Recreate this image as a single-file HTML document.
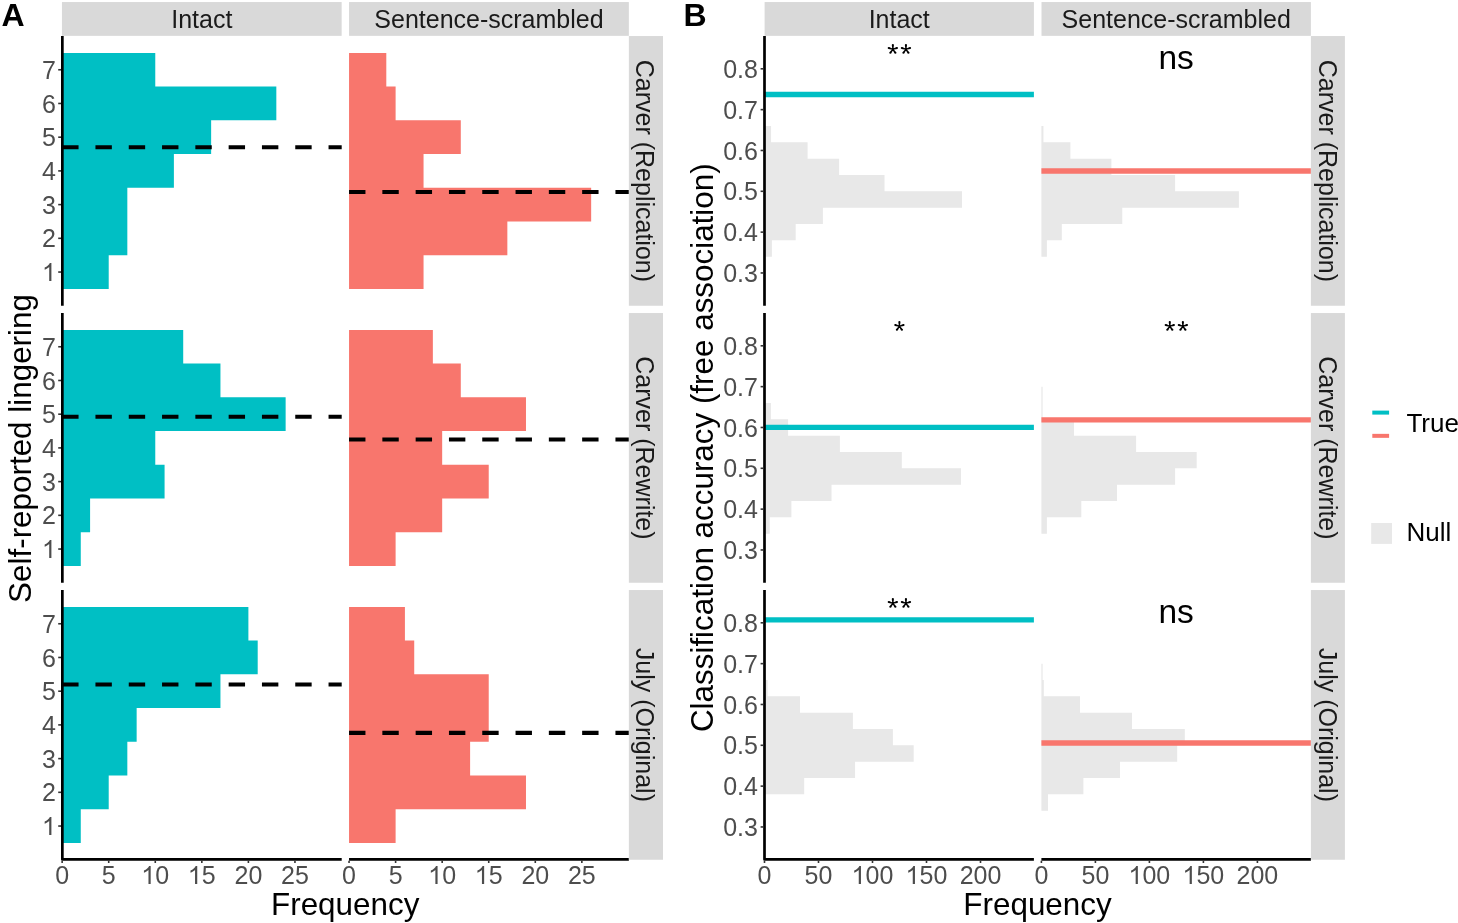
<!DOCTYPE html>
<html><head><meta charset="utf-8"><style>
html,body{margin:0;padding:0;background:#fff;}
body{width:1458px;height:923px;overflow:hidden;}
svg{display:block;font-family:"Liberation Sans", sans-serif;will-change:transform;}
</style></head><body>
<svg width="1458" height="923" viewBox="0 0 1458 923">
<rect x="0" y="0" width="1458" height="923" fill="#fff"/>
<path d="M62.15,288.89 L108.71,288.89 L108.71,255.18 L127.33,255.18 L127.33,221.47 L127.33,221.47 L127.33,187.76 L173.89,187.76 L173.89,154.04 L211.14,154.04 L211.14,120.33 L276.33,120.33 L276.33,86.62 L155.27,86.62 L155.27,52.91 L62.15,52.91 Z" fill="#00BFC4"/>
<line x1="62.15" y1="147.30" x2="341.70" y2="147.30" stroke="#000" stroke-width="4.1" stroke-dasharray="16.4 16.9"/>
<path d="M349.05,288.89 L423.55,288.89 L423.55,255.18 L507.35,255.18 L507.35,221.47 L591.16,221.47 L591.16,187.76 L423.55,187.76 L423.55,154.04 L460.79,154.04 L460.79,120.33 L395.61,120.33 L395.61,86.62 L386.30,86.62 L386.30,52.91 L349.05,52.91 Z" fill="#F8766D"/>
<line x1="349.05" y1="191.97" x2="628.85" y2="191.97" stroke="#000" stroke-width="4.1" stroke-dasharray="16.4 16.9"/>
<path d="M62.15,565.89 L80.77,565.89 L80.77,532.18 L90.09,532.18 L90.09,498.47 L164.58,498.47 L164.58,464.76 L155.27,464.76 L155.27,431.04 L285.64,431.04 L285.64,397.33 L220.45,397.33 L220.45,363.62 L183.21,363.62 L183.21,329.91 L62.15,329.91 Z" fill="#00BFC4"/>
<line x1="62.15" y1="416.72" x2="341.70" y2="416.72" stroke="#000" stroke-width="4.1" stroke-dasharray="16.4 16.9"/>
<path d="M349.05,565.89 L395.61,565.89 L395.61,532.18 L442.17,532.18 L442.17,498.47 L488.73,498.47 L488.73,464.76 L442.17,464.76 L442.17,431.04 L525.98,431.04 L525.98,397.33 L460.79,397.33 L460.79,363.62 L432.86,363.62 L432.86,329.91 L349.05,329.91 Z" fill="#F8766D"/>
<line x1="349.05" y1="439.47" x2="628.85" y2="439.47" stroke="#000" stroke-width="4.1" stroke-dasharray="16.4 16.9"/>
<path d="M62.15,842.89 L80.77,842.89 L80.77,809.18 L108.71,809.18 L108.71,775.47 L127.33,775.47 L127.33,741.76 L136.65,741.76 L136.65,708.04 L220.45,708.04 L220.45,674.33 L257.70,674.33 L257.70,640.62 L248.39,640.62 L248.39,606.91 L62.15,606.91 Z" fill="#00BFC4"/>
<line x1="62.15" y1="684.44" x2="341.70" y2="684.44" stroke="#000" stroke-width="4.1" stroke-dasharray="16.4 16.9"/>
<path d="M349.05,842.89 L395.61,842.89 L395.61,809.18 L525.98,809.18 L525.98,775.47 L470.11,775.47 L470.11,741.76 L488.73,741.76 L488.73,708.04 L488.73,708.04 L488.73,674.33 L414.23,674.33 L414.23,640.62 L404.92,640.62 L404.92,606.91 L349.05,606.91 Z" fill="#F8766D"/>
<line x1="349.05" y1="732.91" x2="628.85" y2="732.91" stroke="#000" stroke-width="4.1" stroke-dasharray="16.4 16.9"/>
<path d="M764.50,256.63 L771.90,256.63 L771.90,240.30 L795.70,240.30 L795.70,223.96 L822.90,223.96 L822.90,207.63 L962.00,207.63 L962.00,191.30 L884.50,191.30 L884.50,174.97 L839.10,174.97 L839.10,158.64 L807.60,158.64 L807.60,142.30 L771.05,142.30 L771.05,125.97 L764.50,125.97 Z" fill="#E8E8E8"/>
<line x1="764.50" y1="94.50" x2="1033.90" y2="94.50" stroke="#00BFC4" stroke-width="5.3" />
<path d="M1041.40,256.63 L1046.90,256.63 L1046.90,240.30 L1061.80,240.30 L1061.80,223.96 L1122.25,223.96 L1122.25,207.63 L1238.90,207.63 L1238.90,191.30 L1175.10,191.30 L1175.10,174.97 L1111.40,174.97 L1111.40,158.64 L1070.40,158.64 L1070.40,142.30 L1043.45,142.30 L1043.45,125.97 L1041.40,125.97 Z" fill="#E8E8E8"/>
<line x1="1041.40" y1="171.00" x2="1310.90" y2="171.00" stroke="#F8766D" stroke-width="5.3" />
<path d="M764.50,533.63 L769.75,533.63 L769.75,517.30 L791.40,517.30 L791.40,500.96 L831.50,500.96 L831.50,484.63 L961.00,484.63 L961.00,468.30 L901.80,468.30 L901.80,451.97 L839.90,451.97 L839.90,435.64 L788.10,435.64 L788.10,419.30 L770.90,419.30 L770.90,402.97 L764.50,402.97 Z" fill="#E8E8E8"/>
<line x1="764.50" y1="427.35" x2="1033.90" y2="427.35" stroke="#00BFC4" stroke-width="5.3" />
<path d="M1041.40,533.63 L1046.90,533.63 L1046.90,517.30 L1081.30,517.30 L1081.30,500.96 L1117.00,500.96 L1117.00,484.63 L1175.10,484.63 L1175.10,468.30 L1196.70,468.30 L1196.70,451.97 L1136.10,451.97 L1136.10,435.64 L1074.00,435.64 L1074.00,419.30 L1042.60,419.30 L1042.60,402.97 L1042.60,402.97 L1042.60,386.64 L1041.40,386.64 Z" fill="#E8E8E8"/>
<line x1="1041.40" y1="419.80" x2="1310.90" y2="419.80" stroke="#F8766D" stroke-width="5.3" />
<path d="M764.50,794.30 L804.20,794.30 L804.20,777.96 L855.05,777.96 L855.05,761.63 L913.70,761.63 L913.70,745.30 L892.90,745.30 L892.90,728.97 L852.90,728.97 L852.90,712.64 L800.00,712.64 L800.00,696.30 L767.60,696.30 L767.60,679.97 L764.50,679.97 Z" fill="#E8E8E8"/>
<line x1="764.50" y1="619.90" x2="1033.90" y2="619.90" stroke="#00BFC4" stroke-width="5.3" />
<path d="M1041.40,810.63 L1048.00,810.63 L1048.00,794.30 L1083.40,794.30 L1083.40,777.96 L1120.00,777.96 L1120.00,761.63 L1177.20,761.63 L1177.20,745.30 L1184.80,745.30 L1184.80,728.97 L1132.00,728.97 L1132.00,712.64 L1080.00,712.64 L1080.00,696.30 L1043.80,696.30 L1043.80,679.97 L1042.60,679.97 L1042.60,663.64 L1041.40,663.64 Z" fill="#E8E8E8"/>
<line x1="1041.40" y1="743.00" x2="1310.90" y2="743.00" stroke="#F8766D" stroke-width="5.3" />
<circle cx="892.86" cy="49.30" r="1.0" fill="#000"/>
<path d="M893.41,49.30L893.94,45.00L891.78,45.00L892.31,49.30ZM891.78,45.00a1.08,1.08 0 1,0 2.16,0a1.08,1.08 0 1,0 -2.16,0ZM893.03,48.78L889.10,46.94L888.44,49.00L892.69,49.82ZM887.69,47.97a1.08,1.08 0 1,0 2.16,0a1.08,1.08 0 1,0 -2.16,0ZM893.03,49.82L897.28,49.00L896.62,46.94L892.69,48.78ZM895.87,47.97a1.08,1.08 0 1,0 2.16,0a1.08,1.08 0 1,0 -2.16,0ZM892.42,48.98L889.46,52.14L891.21,53.41L893.30,49.62ZM889.25,52.78a1.08,1.08 0 1,0 2.16,0a1.08,1.08 0 1,0 -2.16,0ZM892.42,49.62L894.51,53.41L896.26,52.14L893.30,48.98ZM894.31,52.78a1.08,1.08 0 1,0 2.16,0a1.08,1.08 0 1,0 -2.16,0Z" fill="#000" fill-rule="nonzero"/>
<circle cx="905.94" cy="49.30" r="1.0" fill="#000"/>
<path d="M906.49,49.30L907.02,45.00L904.86,45.00L905.39,49.30ZM904.86,45.00a1.08,1.08 0 1,0 2.16,0a1.08,1.08 0 1,0 -2.16,0ZM906.11,48.78L902.18,46.94L901.52,49.00L905.77,49.82ZM900.77,47.97a1.08,1.08 0 1,0 2.16,0a1.08,1.08 0 1,0 -2.16,0ZM906.11,49.82L910.36,49.00L909.70,46.94L905.77,48.78ZM908.95,47.97a1.08,1.08 0 1,0 2.16,0a1.08,1.08 0 1,0 -2.16,0ZM905.50,48.98L902.54,52.14L904.29,53.41L906.38,49.62ZM902.33,52.78a1.08,1.08 0 1,0 2.16,0a1.08,1.08 0 1,0 -2.16,0ZM905.50,49.62L907.59,53.41L909.34,52.14L906.38,48.98ZM907.39,52.78a1.08,1.08 0 1,0 2.16,0a1.08,1.08 0 1,0 -2.16,0Z" fill="#000" fill-rule="nonzero"/>
<text x="1176.15" y="68.65" font-size="33.5" fill="#000" text-anchor="middle" font-weight="normal">ns</text>
<circle cx="899.40" cy="326.30" r="1.0" fill="#000"/>
<path d="M899.95,326.30L900.48,322.00L898.32,322.00L898.85,326.30ZM898.32,322.00a1.08,1.08 0 1,0 2.16,0a1.08,1.08 0 1,0 -2.16,0ZM899.57,325.78L895.64,323.94L894.98,326.00L899.23,326.82ZM894.23,324.97a1.08,1.08 0 1,0 2.16,0a1.08,1.08 0 1,0 -2.16,0ZM899.57,326.82L903.82,326.00L903.16,323.94L899.23,325.78ZM902.41,324.97a1.08,1.08 0 1,0 2.16,0a1.08,1.08 0 1,0 -2.16,0ZM898.96,325.98L896.00,329.14L897.75,330.41L899.84,326.62ZM895.79,329.78a1.08,1.08 0 1,0 2.16,0a1.08,1.08 0 1,0 -2.16,0ZM898.96,326.62L901.05,330.41L902.80,329.14L899.84,325.98ZM900.85,329.78a1.08,1.08 0 1,0 2.16,0a1.08,1.08 0 1,0 -2.16,0Z" fill="#000" fill-rule="nonzero"/>
<circle cx="1169.81" cy="326.30" r="1.0" fill="#000"/>
<path d="M1170.36,326.30L1170.89,322.00L1168.73,322.00L1169.26,326.30ZM1168.73,322.00a1.08,1.08 0 1,0 2.16,0a1.08,1.08 0 1,0 -2.16,0ZM1169.98,325.78L1166.05,323.94L1165.39,326.00L1169.64,326.82ZM1164.64,324.97a1.08,1.08 0 1,0 2.16,0a1.08,1.08 0 1,0 -2.16,0ZM1169.98,326.82L1174.23,326.00L1173.57,323.94L1169.64,325.78ZM1172.82,324.97a1.08,1.08 0 1,0 2.16,0a1.08,1.08 0 1,0 -2.16,0ZM1169.37,325.98L1166.41,329.14L1168.16,330.41L1170.25,326.62ZM1166.20,329.78a1.08,1.08 0 1,0 2.16,0a1.08,1.08 0 1,0 -2.16,0ZM1169.37,326.62L1171.46,330.41L1173.21,329.14L1170.25,325.98ZM1171.26,329.78a1.08,1.08 0 1,0 2.16,0a1.08,1.08 0 1,0 -2.16,0Z" fill="#000" fill-rule="nonzero"/>
<circle cx="1182.89" cy="326.30" r="1.0" fill="#000"/>
<path d="M1183.44,326.30L1183.97,322.00L1181.81,322.00L1182.34,326.30ZM1181.81,322.00a1.08,1.08 0 1,0 2.16,0a1.08,1.08 0 1,0 -2.16,0ZM1183.06,325.78L1179.13,323.94L1178.47,326.00L1182.72,326.82ZM1177.72,324.97a1.08,1.08 0 1,0 2.16,0a1.08,1.08 0 1,0 -2.16,0ZM1183.06,326.82L1187.31,326.00L1186.65,323.94L1182.72,325.78ZM1185.90,324.97a1.08,1.08 0 1,0 2.16,0a1.08,1.08 0 1,0 -2.16,0ZM1182.45,325.98L1179.49,329.14L1181.24,330.41L1183.33,326.62ZM1179.28,329.78a1.08,1.08 0 1,0 2.16,0a1.08,1.08 0 1,0 -2.16,0ZM1182.45,326.62L1184.54,330.41L1186.29,329.14L1183.33,325.98ZM1184.34,329.78a1.08,1.08 0 1,0 2.16,0a1.08,1.08 0 1,0 -2.16,0Z" fill="#000" fill-rule="nonzero"/>
<circle cx="892.86" cy="603.30" r="1.0" fill="#000"/>
<path d="M893.41,603.30L893.94,599.00L891.78,599.00L892.31,603.30ZM891.78,599.00a1.08,1.08 0 1,0 2.16,0a1.08,1.08 0 1,0 -2.16,0ZM893.03,602.78L889.10,600.94L888.44,603.00L892.69,603.82ZM887.69,601.97a1.08,1.08 0 1,0 2.16,0a1.08,1.08 0 1,0 -2.16,0ZM893.03,603.82L897.28,603.00L896.62,600.94L892.69,602.78ZM895.87,601.97a1.08,1.08 0 1,0 2.16,0a1.08,1.08 0 1,0 -2.16,0ZM892.42,602.98L889.46,606.14L891.21,607.41L893.30,603.62ZM889.25,606.78a1.08,1.08 0 1,0 2.16,0a1.08,1.08 0 1,0 -2.16,0ZM892.42,603.62L894.51,607.41L896.26,606.14L893.30,602.98ZM894.31,606.78a1.08,1.08 0 1,0 2.16,0a1.08,1.08 0 1,0 -2.16,0Z" fill="#000" fill-rule="nonzero"/>
<circle cx="905.94" cy="603.30" r="1.0" fill="#000"/>
<path d="M906.49,603.30L907.02,599.00L904.86,599.00L905.39,603.30ZM904.86,599.00a1.08,1.08 0 1,0 2.16,0a1.08,1.08 0 1,0 -2.16,0ZM906.11,602.78L902.18,600.94L901.52,603.00L905.77,603.82ZM900.77,601.97a1.08,1.08 0 1,0 2.16,0a1.08,1.08 0 1,0 -2.16,0ZM906.11,603.82L910.36,603.00L909.70,600.94L905.77,602.78ZM908.95,601.97a1.08,1.08 0 1,0 2.16,0a1.08,1.08 0 1,0 -2.16,0ZM905.50,602.98L902.54,606.14L904.29,607.41L906.38,603.62ZM902.33,606.78a1.08,1.08 0 1,0 2.16,0a1.08,1.08 0 1,0 -2.16,0ZM905.50,603.62L907.59,607.41L909.34,606.14L906.38,602.98ZM907.39,606.78a1.08,1.08 0 1,0 2.16,0a1.08,1.08 0 1,0 -2.16,0Z" fill="#000" fill-rule="nonzero"/>
<text x="1176.15" y="622.65" font-size="33.5" fill="#000" text-anchor="middle" font-weight="normal">ns</text>
<line x1="62.35" y1="35.95" x2="62.35" y2="305.75" stroke="#000" stroke-width="2.7" />
<line x1="764.50" y1="35.95" x2="764.50" y2="305.75" stroke="#000" stroke-width="2.7" />
<line x1="58.20" y1="272.04" x2="61.00" y2="272.04" stroke="#333" stroke-width="1.6" />
<path d="M0.3726 0L0.2847 0L0.2847 0.5601C0.2630 0.5390 0.2350 0.5190 0.2010 0.4990C0.1670 0.4790 0.1340 0.4640 0.1030 0.4541L0.1030 0.5391C0.1480 0.5600 0.1940 0.5880 0.2330 0.6220C0.2720 0.6560 0.2980 0.6880 0.3101 0.7188L0.3726 0.7188Z" fill="#4D4D4D" transform="translate(42.09 281.00) scale(25 -25)"/>
<line x1="58.20" y1="238.32" x2="61.00" y2="238.32" stroke="#333" stroke-width="1.6" />
<text x="42.09" y="247.00" font-size="25" fill="#4D4D4D">2</text>
<line x1="58.20" y1="204.61" x2="61.00" y2="204.61" stroke="#333" stroke-width="1.6" />
<text x="42.09" y="214.00" font-size="25" fill="#4D4D4D">3</text>
<line x1="58.20" y1="170.90" x2="61.00" y2="170.90" stroke="#333" stroke-width="1.6" />
<text x="42.09" y="180.00" font-size="25" fill="#4D4D4D">4</text>
<line x1="58.20" y1="137.19" x2="61.00" y2="137.19" stroke="#333" stroke-width="1.6" />
<text x="42.09" y="146.00" font-size="25" fill="#4D4D4D">5</text>
<line x1="58.20" y1="103.47" x2="61.00" y2="103.47" stroke="#333" stroke-width="1.6" />
<text x="42.09" y="113.00" font-size="25" fill="#4D4D4D">6</text>
<line x1="58.20" y1="69.76" x2="61.00" y2="69.76" stroke="#333" stroke-width="1.6" />
<text x="42.09" y="79.00" font-size="25" fill="#4D4D4D">7</text>
<line x1="760.60" y1="272.96" x2="763.20" y2="272.96" stroke="#333" stroke-width="1.6" />
<text x="723.14" y="282.00" font-size="25" fill="#4D4D4D">0</text>
<text x="737.05" y="282.00" font-size="25" fill="#4D4D4D">.</text>
<text x="744.00" y="282.00" font-size="25" fill="#4D4D4D">3</text>
<line x1="760.60" y1="232.13" x2="763.20" y2="232.13" stroke="#333" stroke-width="1.6" />
<text x="723.14" y="241.00" font-size="25" fill="#4D4D4D">0</text>
<text x="737.05" y="241.00" font-size="25" fill="#4D4D4D">.</text>
<text x="744.00" y="241.00" font-size="25" fill="#4D4D4D">4</text>
<line x1="760.60" y1="191.30" x2="763.20" y2="191.30" stroke="#333" stroke-width="1.6" />
<text x="723.14" y="200.00" font-size="25" fill="#4D4D4D">0</text>
<text x="737.05" y="200.00" font-size="25" fill="#4D4D4D">.</text>
<text x="744.00" y="200.00" font-size="25" fill="#4D4D4D">5</text>
<line x1="760.60" y1="150.47" x2="763.20" y2="150.47" stroke="#333" stroke-width="1.6" />
<text x="723.14" y="160.00" font-size="25" fill="#4D4D4D">0</text>
<text x="737.05" y="160.00" font-size="25" fill="#4D4D4D">.</text>
<text x="744.00" y="160.00" font-size="25" fill="#4D4D4D">6</text>
<line x1="760.60" y1="109.64" x2="763.20" y2="109.64" stroke="#333" stroke-width="1.6" />
<text x="723.14" y="119.00" font-size="25" fill="#4D4D4D">0</text>
<text x="737.05" y="119.00" font-size="25" fill="#4D4D4D">.</text>
<text x="744.00" y="119.00" font-size="25" fill="#4D4D4D">7</text>
<line x1="760.60" y1="68.81" x2="763.20" y2="68.81" stroke="#333" stroke-width="1.6" />
<text x="723.14" y="78.00" font-size="25" fill="#4D4D4D">0</text>
<text x="737.05" y="78.00" font-size="25" fill="#4D4D4D">.</text>
<text x="744.00" y="78.00" font-size="25" fill="#4D4D4D">8</text>
<line x1="62.35" y1="312.95" x2="62.35" y2="582.75" stroke="#000" stroke-width="2.7" />
<line x1="764.50" y1="312.95" x2="764.50" y2="582.75" stroke="#000" stroke-width="2.7" />
<line x1="58.20" y1="549.04" x2="61.00" y2="549.04" stroke="#333" stroke-width="1.6" />
<path d="M0.3726 0L0.2847 0L0.2847 0.5601C0.2630 0.5390 0.2350 0.5190 0.2010 0.4990C0.1670 0.4790 0.1340 0.4640 0.1030 0.4541L0.1030 0.5391C0.1480 0.5600 0.1940 0.5880 0.2330 0.6220C0.2720 0.6560 0.2980 0.6880 0.3101 0.7188L0.3726 0.7188Z" fill="#4D4D4D" transform="translate(42.09 558.00) scale(25 -25)"/>
<line x1="58.20" y1="515.33" x2="61.00" y2="515.33" stroke="#333" stroke-width="1.6" />
<text x="42.09" y="524.00" font-size="25" fill="#4D4D4D">2</text>
<line x1="58.20" y1="481.61" x2="61.00" y2="481.61" stroke="#333" stroke-width="1.6" />
<text x="42.09" y="491.00" font-size="25" fill="#4D4D4D">3</text>
<line x1="58.20" y1="447.90" x2="61.00" y2="447.90" stroke="#333" stroke-width="1.6" />
<text x="42.09" y="457.00" font-size="25" fill="#4D4D4D">4</text>
<line x1="58.20" y1="414.19" x2="61.00" y2="414.19" stroke="#333" stroke-width="1.6" />
<text x="42.09" y="423.00" font-size="25" fill="#4D4D4D">5</text>
<line x1="58.20" y1="380.48" x2="61.00" y2="380.48" stroke="#333" stroke-width="1.6" />
<text x="42.09" y="390.00" font-size="25" fill="#4D4D4D">6</text>
<line x1="58.20" y1="346.76" x2="61.00" y2="346.76" stroke="#333" stroke-width="1.6" />
<text x="42.09" y="356.00" font-size="25" fill="#4D4D4D">7</text>
<line x1="760.60" y1="549.96" x2="763.20" y2="549.96" stroke="#333" stroke-width="1.6" />
<text x="723.14" y="559.00" font-size="25" fill="#4D4D4D">0</text>
<text x="737.05" y="559.00" font-size="25" fill="#4D4D4D">.</text>
<text x="744.00" y="559.00" font-size="25" fill="#4D4D4D">3</text>
<line x1="760.60" y1="509.13" x2="763.20" y2="509.13" stroke="#333" stroke-width="1.6" />
<text x="723.14" y="518.00" font-size="25" fill="#4D4D4D">0</text>
<text x="737.05" y="518.00" font-size="25" fill="#4D4D4D">.</text>
<text x="744.00" y="518.00" font-size="25" fill="#4D4D4D">4</text>
<line x1="760.60" y1="468.30" x2="763.20" y2="468.30" stroke="#333" stroke-width="1.6" />
<text x="723.14" y="477.00" font-size="25" fill="#4D4D4D">0</text>
<text x="737.05" y="477.00" font-size="25" fill="#4D4D4D">.</text>
<text x="744.00" y="477.00" font-size="25" fill="#4D4D4D">5</text>
<line x1="760.60" y1="427.47" x2="763.20" y2="427.47" stroke="#333" stroke-width="1.6" />
<text x="723.14" y="437.00" font-size="25" fill="#4D4D4D">0</text>
<text x="737.05" y="437.00" font-size="25" fill="#4D4D4D">.</text>
<text x="744.00" y="437.00" font-size="25" fill="#4D4D4D">6</text>
<line x1="760.60" y1="386.64" x2="763.20" y2="386.64" stroke="#333" stroke-width="1.6" />
<text x="723.14" y="396.00" font-size="25" fill="#4D4D4D">0</text>
<text x="737.05" y="396.00" font-size="25" fill="#4D4D4D">.</text>
<text x="744.00" y="396.00" font-size="25" fill="#4D4D4D">7</text>
<line x1="760.60" y1="345.81" x2="763.20" y2="345.81" stroke="#333" stroke-width="1.6" />
<text x="723.14" y="355.00" font-size="25" fill="#4D4D4D">0</text>
<text x="737.05" y="355.00" font-size="25" fill="#4D4D4D">.</text>
<text x="744.00" y="355.00" font-size="25" fill="#4D4D4D">8</text>
<path d="M62.35,589.95 L62.35,859.4 L341.7,859.4" fill="none" stroke="#000" stroke-width="2.7" stroke-linejoin="round"/>
<path d="M764.5,589.95 L764.5,859.4 L1033.9,859.4" fill="none" stroke="#000" stroke-width="2.7" stroke-linejoin="round"/>
<line x1="58.20" y1="826.04" x2="61.00" y2="826.04" stroke="#333" stroke-width="1.6" />
<path d="M0.3726 0L0.2847 0L0.2847 0.5601C0.2630 0.5390 0.2350 0.5190 0.2010 0.4990C0.1670 0.4790 0.1340 0.4640 0.1030 0.4541L0.1030 0.5391C0.1480 0.5600 0.1940 0.5880 0.2330 0.6220C0.2720 0.6560 0.2980 0.6880 0.3101 0.7188L0.3726 0.7188Z" fill="#4D4D4D" transform="translate(42.09 835.00) scale(25 -25)"/>
<line x1="58.20" y1="792.32" x2="61.00" y2="792.32" stroke="#333" stroke-width="1.6" />
<text x="42.09" y="801.00" font-size="25" fill="#4D4D4D">2</text>
<line x1="58.20" y1="758.61" x2="61.00" y2="758.61" stroke="#333" stroke-width="1.6" />
<text x="42.09" y="768.00" font-size="25" fill="#4D4D4D">3</text>
<line x1="58.20" y1="724.90" x2="61.00" y2="724.90" stroke="#333" stroke-width="1.6" />
<text x="42.09" y="734.00" font-size="25" fill="#4D4D4D">4</text>
<line x1="58.20" y1="691.19" x2="61.00" y2="691.19" stroke="#333" stroke-width="1.6" />
<text x="42.09" y="700.00" font-size="25" fill="#4D4D4D">5</text>
<line x1="58.20" y1="657.47" x2="61.00" y2="657.47" stroke="#333" stroke-width="1.6" />
<text x="42.09" y="667.00" font-size="25" fill="#4D4D4D">6</text>
<line x1="58.20" y1="623.76" x2="61.00" y2="623.76" stroke="#333" stroke-width="1.6" />
<text x="42.09" y="633.00" font-size="25" fill="#4D4D4D">7</text>
<line x1="760.60" y1="826.96" x2="763.20" y2="826.96" stroke="#333" stroke-width="1.6" />
<text x="723.14" y="836.00" font-size="25" fill="#4D4D4D">0</text>
<text x="737.05" y="836.00" font-size="25" fill="#4D4D4D">.</text>
<text x="744.00" y="836.00" font-size="25" fill="#4D4D4D">3</text>
<line x1="760.60" y1="786.13" x2="763.20" y2="786.13" stroke="#333" stroke-width="1.6" />
<text x="723.14" y="795.00" font-size="25" fill="#4D4D4D">0</text>
<text x="737.05" y="795.00" font-size="25" fill="#4D4D4D">.</text>
<text x="744.00" y="795.00" font-size="25" fill="#4D4D4D">4</text>
<line x1="760.60" y1="745.30" x2="763.20" y2="745.30" stroke="#333" stroke-width="1.6" />
<text x="723.14" y="754.00" font-size="25" fill="#4D4D4D">0</text>
<text x="737.05" y="754.00" font-size="25" fill="#4D4D4D">.</text>
<text x="744.00" y="754.00" font-size="25" fill="#4D4D4D">5</text>
<line x1="760.60" y1="704.47" x2="763.20" y2="704.47" stroke="#333" stroke-width="1.6" />
<text x="723.14" y="714.00" font-size="25" fill="#4D4D4D">0</text>
<text x="737.05" y="714.00" font-size="25" fill="#4D4D4D">.</text>
<text x="744.00" y="714.00" font-size="25" fill="#4D4D4D">6</text>
<line x1="760.60" y1="663.64" x2="763.20" y2="663.64" stroke="#333" stroke-width="1.6" />
<text x="723.14" y="673.00" font-size="25" fill="#4D4D4D">0</text>
<text x="737.05" y="673.00" font-size="25" fill="#4D4D4D">.</text>
<text x="744.00" y="673.00" font-size="25" fill="#4D4D4D">7</text>
<line x1="760.60" y1="622.81" x2="763.20" y2="622.81" stroke="#333" stroke-width="1.6" />
<text x="723.14" y="632.00" font-size="25" fill="#4D4D4D">0</text>
<text x="737.05" y="632.00" font-size="25" fill="#4D4D4D">.</text>
<text x="744.00" y="632.00" font-size="25" fill="#4D4D4D">8</text>
<line x1="349.05" y1="859.40" x2="628.85" y2="859.40" stroke="#000" stroke-width="2.7" />
<line x1="1041.40" y1="859.40" x2="1310.90" y2="859.40" stroke="#000" stroke-width="2.7" />
<line x1="62.15" y1="860.70" x2="62.15" y2="863.00" stroke="#333" stroke-width="1.6" />
<text x="55.20" y="884.00" font-size="25" fill="#4D4D4D">0</text>
<line x1="108.71" y1="860.70" x2="108.71" y2="863.00" stroke="#333" stroke-width="1.6" />
<text x="101.76" y="884.00" font-size="25" fill="#4D4D4D">5</text>
<line x1="155.27" y1="860.70" x2="155.27" y2="863.00" stroke="#333" stroke-width="1.6" />
<path d="M0.3726 0L0.2847 0L0.2847 0.5601C0.2630 0.5390 0.2350 0.5190 0.2010 0.4990C0.1670 0.4790 0.1340 0.4640 0.1030 0.4541L0.1030 0.5391C0.1480 0.5600 0.1940 0.5880 0.2330 0.6220C0.2720 0.6560 0.2980 0.6880 0.3101 0.7188L0.3726 0.7188Z" fill="#4D4D4D" transform="translate(141.36 884.00) scale(25 -25)"/>
<text x="155.27" y="884.00" font-size="25" fill="#4D4D4D">0</text>
<line x1="201.83" y1="860.70" x2="201.83" y2="863.00" stroke="#333" stroke-width="1.6" />
<path d="M0.3726 0L0.2847 0L0.2847 0.5601C0.2630 0.5390 0.2350 0.5190 0.2010 0.4990C0.1670 0.4790 0.1340 0.4640 0.1030 0.4541L0.1030 0.5391C0.1480 0.5600 0.1940 0.5880 0.2330 0.6220C0.2720 0.6560 0.2980 0.6880 0.3101 0.7188L0.3726 0.7188Z" fill="#4D4D4D" transform="translate(187.92 884.00) scale(25 -25)"/>
<text x="201.83" y="884.00" font-size="25" fill="#4D4D4D">5</text>
<line x1="248.39" y1="860.70" x2="248.39" y2="863.00" stroke="#333" stroke-width="1.6" />
<text x="234.48" y="884.00" font-size="25" fill="#4D4D4D">2</text>
<text x="248.39" y="884.00" font-size="25" fill="#4D4D4D">0</text>
<line x1="294.95" y1="860.70" x2="294.95" y2="863.00" stroke="#333" stroke-width="1.6" />
<text x="281.04" y="884.00" font-size="25" fill="#4D4D4D">2</text>
<text x="294.95" y="884.00" font-size="25" fill="#4D4D4D">5</text>
<line x1="349.05" y1="860.70" x2="349.05" y2="863.00" stroke="#333" stroke-width="1.6" />
<text x="342.10" y="884.00" font-size="25" fill="#4D4D4D">0</text>
<line x1="395.61" y1="860.70" x2="395.61" y2="863.00" stroke="#333" stroke-width="1.6" />
<text x="388.66" y="884.00" font-size="25" fill="#4D4D4D">5</text>
<line x1="442.17" y1="860.70" x2="442.17" y2="863.00" stroke="#333" stroke-width="1.6" />
<path d="M0.3726 0L0.2847 0L0.2847 0.5601C0.2630 0.5390 0.2350 0.5190 0.2010 0.4990C0.1670 0.4790 0.1340 0.4640 0.1030 0.4541L0.1030 0.5391C0.1480 0.5600 0.1940 0.5880 0.2330 0.6220C0.2720 0.6560 0.2980 0.6880 0.3101 0.7188L0.3726 0.7188Z" fill="#4D4D4D" transform="translate(428.26 884.00) scale(25 -25)"/>
<text x="442.17" y="884.00" font-size="25" fill="#4D4D4D">0</text>
<line x1="488.73" y1="860.70" x2="488.73" y2="863.00" stroke="#333" stroke-width="1.6" />
<path d="M0.3726 0L0.2847 0L0.2847 0.5601C0.2630 0.5390 0.2350 0.5190 0.2010 0.4990C0.1670 0.4790 0.1340 0.4640 0.1030 0.4541L0.1030 0.5391C0.1480 0.5600 0.1940 0.5880 0.2330 0.6220C0.2720 0.6560 0.2980 0.6880 0.3101 0.7188L0.3726 0.7188Z" fill="#4D4D4D" transform="translate(474.83 884.00) scale(25 -25)"/>
<text x="488.73" y="884.00" font-size="25" fill="#4D4D4D">5</text>
<line x1="535.29" y1="860.70" x2="535.29" y2="863.00" stroke="#333" stroke-width="1.6" />
<text x="521.38" y="884.00" font-size="25" fill="#4D4D4D">2</text>
<text x="535.29" y="884.00" font-size="25" fill="#4D4D4D">0</text>
<line x1="581.85" y1="860.70" x2="581.85" y2="863.00" stroke="#333" stroke-width="1.6" />
<text x="567.95" y="884.00" font-size="25" fill="#4D4D4D">2</text>
<text x="581.85" y="884.00" font-size="25" fill="#4D4D4D">5</text>
<line x1="764.50" y1="860.70" x2="764.50" y2="863.00" stroke="#333" stroke-width="1.6" />
<text x="757.55" y="884.00" font-size="25" fill="#4D4D4D">0</text>
<line x1="818.50" y1="860.70" x2="818.50" y2="863.00" stroke="#333" stroke-width="1.6" />
<text x="804.60" y="884.00" font-size="25" fill="#4D4D4D">5</text>
<text x="818.50" y="884.00" font-size="25" fill="#4D4D4D">0</text>
<line x1="872.50" y1="860.70" x2="872.50" y2="863.00" stroke="#333" stroke-width="1.6" />
<path d="M0.3726 0L0.2847 0L0.2847 0.5601C0.2630 0.5390 0.2350 0.5190 0.2010 0.4990C0.1670 0.4790 0.1340 0.4640 0.1030 0.4541L0.1030 0.5391C0.1480 0.5600 0.1940 0.5880 0.2330 0.6220C0.2720 0.6560 0.2980 0.6880 0.3101 0.7188L0.3726 0.7188Z" fill="#4D4D4D" transform="translate(851.64 884.00) scale(25 -25)"/>
<text x="865.55" y="884.00" font-size="25" fill="#4D4D4D">0</text>
<text x="879.45" y="884.00" font-size="25" fill="#4D4D4D">0</text>
<line x1="926.50" y1="860.70" x2="926.50" y2="863.00" stroke="#333" stroke-width="1.6" />
<path d="M0.3726 0L0.2847 0L0.2847 0.5601C0.2630 0.5390 0.2350 0.5190 0.2010 0.4990C0.1670 0.4790 0.1340 0.4640 0.1030 0.4541L0.1030 0.5391C0.1480 0.5600 0.1940 0.5880 0.2330 0.6220C0.2720 0.6560 0.2980 0.6880 0.3101 0.7188L0.3726 0.7188Z" fill="#4D4D4D" transform="translate(905.64 884.00) scale(25 -25)"/>
<text x="919.55" y="884.00" font-size="25" fill="#4D4D4D">5</text>
<text x="933.45" y="884.00" font-size="25" fill="#4D4D4D">0</text>
<line x1="980.50" y1="860.70" x2="980.50" y2="863.00" stroke="#333" stroke-width="1.6" />
<text x="959.64" y="884.00" font-size="25" fill="#4D4D4D">2</text>
<text x="973.55" y="884.00" font-size="25" fill="#4D4D4D">0</text>
<text x="987.45" y="884.00" font-size="25" fill="#4D4D4D">0</text>
<line x1="1041.40" y1="860.70" x2="1041.40" y2="863.00" stroke="#333" stroke-width="1.6" />
<text x="1034.45" y="884.00" font-size="25" fill="#4D4D4D">0</text>
<line x1="1095.40" y1="860.70" x2="1095.40" y2="863.00" stroke="#333" stroke-width="1.6" />
<text x="1081.50" y="884.00" font-size="25" fill="#4D4D4D">5</text>
<text x="1095.40" y="884.00" font-size="25" fill="#4D4D4D">0</text>
<line x1="1149.40" y1="860.70" x2="1149.40" y2="863.00" stroke="#333" stroke-width="1.6" />
<path d="M0.3726 0L0.2847 0L0.2847 0.5601C0.2630 0.5390 0.2350 0.5190 0.2010 0.4990C0.1670 0.4790 0.1340 0.4640 0.1030 0.4541L0.1030 0.5391C0.1480 0.5600 0.1940 0.5880 0.2330 0.6220C0.2720 0.6560 0.2980 0.6880 0.3101 0.7188L0.3726 0.7188Z" fill="#4D4D4D" transform="translate(1128.54 884.00) scale(25 -25)"/>
<text x="1142.45" y="884.00" font-size="25" fill="#4D4D4D">0</text>
<text x="1156.35" y="884.00" font-size="25" fill="#4D4D4D">0</text>
<line x1="1203.40" y1="860.70" x2="1203.40" y2="863.00" stroke="#333" stroke-width="1.6" />
<path d="M0.3726 0L0.2847 0L0.2847 0.5601C0.2630 0.5390 0.2350 0.5190 0.2010 0.4990C0.1670 0.4790 0.1340 0.4640 0.1030 0.4541L0.1030 0.5391C0.1480 0.5600 0.1940 0.5880 0.2330 0.6220C0.2720 0.6560 0.2980 0.6880 0.3101 0.7188L0.3726 0.7188Z" fill="#4D4D4D" transform="translate(1182.54 884.00) scale(25 -25)"/>
<text x="1196.45" y="884.00" font-size="25" fill="#4D4D4D">5</text>
<text x="1210.35" y="884.00" font-size="25" fill="#4D4D4D">0</text>
<line x1="1257.40" y1="860.70" x2="1257.40" y2="863.00" stroke="#333" stroke-width="1.6" />
<text x="1236.54" y="884.00" font-size="25" fill="#4D4D4D">2</text>
<text x="1250.45" y="884.00" font-size="25" fill="#4D4D4D">0</text>
<text x="1264.35" y="884.00" font-size="25" fill="#4D4D4D">0</text>
<rect x="61.95" y="2.05" width="279.70" height="33.80" fill="#D9D9D9"/>
<text x="201.80" y="28.10" font-size="25" fill="#1A1A1A" text-anchor="middle" font-weight="normal">Intact</text>
<rect x="349.05" y="2.05" width="279.80" height="33.80" fill="#D9D9D9"/>
<text x="488.95" y="28.10" font-size="25" fill="#1A1A1A" text-anchor="middle" font-weight="normal">Sentence-scrambled</text>
<rect x="628.85" y="36.05" width="34.15" height="269.70" fill="#D9D9D9"/>
<text x="636.35" y="170.90" font-size="25" fill="#1A1A1A" text-anchor="middle" font-weight="normal" transform="rotate(90 636.35 170.90)">Carver (Replication)</text>
<rect x="628.85" y="313.05" width="34.15" height="269.70" fill="#D9D9D9"/>
<text x="636.35" y="447.90" font-size="25" fill="#1A1A1A" text-anchor="middle" font-weight="normal" transform="rotate(90 636.35 447.90)">Carver (Rewrite)</text>
<rect x="628.85" y="590.05" width="34.15" height="269.70" fill="#D9D9D9"/>
<text x="636.35" y="724.90" font-size="25" fill="#1A1A1A" text-anchor="middle" font-weight="normal" transform="rotate(90 636.35 724.90)">July (Original)</text>
<rect x="764.60" y="2.05" width="269.30" height="33.80" fill="#D9D9D9"/>
<text x="899.25" y="28.10" font-size="25" fill="#1A1A1A" text-anchor="middle" font-weight="normal">Intact</text>
<rect x="1041.50" y="2.05" width="269.40" height="33.80" fill="#D9D9D9"/>
<text x="1176.20" y="28.10" font-size="25" fill="#1A1A1A" text-anchor="middle" font-weight="normal">Sentence-scrambled</text>
<rect x="1310.90" y="36.05" width="34.00" height="269.70" fill="#D9D9D9"/>
<text x="1318.80" y="170.90" font-size="25" fill="#1A1A1A" text-anchor="middle" font-weight="normal" transform="rotate(90 1318.80 170.90)">Carver (Replication)</text>
<rect x="1310.90" y="313.05" width="34.00" height="269.70" fill="#D9D9D9"/>
<text x="1318.80" y="447.90" font-size="25" fill="#1A1A1A" text-anchor="middle" font-weight="normal" transform="rotate(90 1318.80 447.90)">Carver (Rewrite)</text>
<rect x="1310.90" y="590.05" width="34.00" height="269.70" fill="#D9D9D9"/>
<text x="1318.80" y="724.90" font-size="25" fill="#1A1A1A" text-anchor="middle" font-weight="normal" transform="rotate(90 1318.80 724.90)">July (Original)</text>
<text x="345.20" y="915.10" font-size="31.4" fill="#000" text-anchor="middle" font-weight="normal">Frequency</text>
<text x="1037.50" y="915.10" font-size="31.4" fill="#000" text-anchor="middle" font-weight="normal">Frequency</text>
<text x="31.40" y="448.50" font-size="31.4" fill="#000" text-anchor="middle" font-weight="normal" transform="rotate(-90 31.40 448.50)">Self-reported lingering</text>
<text x="713.00" y="447.70" font-size="31.4" fill="#000" text-anchor="middle" font-weight="normal" transform="rotate(-90 713.00 447.70)">Classification accuracy (free association)</text>
<text x="1.40" y="26.20" font-size="32" fill="#000" text-anchor="start" font-weight="bold">A</text>
<text x="683.60" y="26.20" font-size="32" fill="#000" text-anchor="start" font-weight="bold">B</text>
<line x1="1372.30" y1="412.60" x2="1389.10" y2="412.60" stroke="#00BFC4" stroke-width="4.0" />
<line x1="1372.30" y1="435.85" x2="1389.10" y2="435.85" stroke="#F8766D" stroke-width="4.0" />
<text x="1406.40" y="431.90" font-size="26" fill="#000" text-anchor="start" font-weight="normal">True</text>
<rect x="1371.20" y="523.00" width="20.80" height="20.90" fill="#E8E8E8"/>
<text x="1406.40" y="541.05" font-size="26" fill="#000" text-anchor="start" font-weight="normal">Null</text>
</svg>
</body></html>
